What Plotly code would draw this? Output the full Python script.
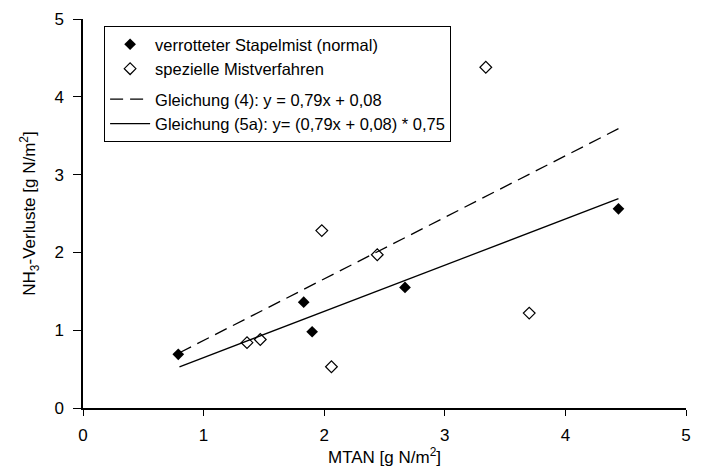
import plotly.graph_objects as go

# Data
x_normal = [0.79, 1.83, 1.90, 2.67, 4.44]
y_normal = [0.69, 1.36, 0.98, 1.55, 2.56]

x_special = [1.36, 1.47, 1.98, 2.06, 2.44, 3.34, 3.70]
y_special = [0.84, 0.88, 2.28, 0.53, 1.97, 4.38, 1.22]

x_fit = [0.80, 4.44]
y_eq4 = [0.71, 3.59]
y_eq5a = [0.53, 2.69]

tick_vals = [0, 1, 2, 3, 4, 5]
tick_text = ["0", "1", "2", "3", "4", "5"]

FONT = "Liberation Sans, Arial, sans-serif"

fig = go.Figure()
fig.add_trace(go.Scatter(
    x=x_normal, y=y_normal, mode="markers",
    name="verrotteter Stapelmist (normal)",
    marker=dict(symbol="diamond", size=9, color="black"),
    legendgroup="pts",
))
fig.add_trace(go.Scatter(
    x=x_special, y=y_special, mode="markers",
    name="spezielle Mistverfahren",
    marker=dict(symbol="diamond-open", size=9, color="black", line=dict(width=1.2)),
    legendgroup="pts",
))
fig.add_trace(go.Scatter(
    x=x_fit, y=y_eq4, mode="lines",
    name="Gleichung (4): y = 0,79x + 0,08",
    line=dict(color="black", width=1.3, dash="13px,7px"),
    legendgroup="lines",
))
fig.add_trace(go.Scatter(
    x=x_fit, y=y_eq5a, mode="lines",
    name="Gleichung (5a): y= (0,79x + 0,08) * 0,75",
    line=dict(color="black", width=1.3),
    legendgroup="lines",
))

fig.update_layout(
    width=698, height=464,
    margin=dict(l=75, r=20, t=11, b=64),
    paper_bgcolor="white", plot_bgcolor="white",
    font=dict(family=FONT, size=17, color="black"),
    showlegend=True,
    legend=dict(
        x=0.035, y=0.982, xanchor="left", yanchor="top",
        bgcolor="white", bordercolor="black", borderwidth=1,
        font=dict(family=FONT, size=16.5, color="black"),
        traceorder="grouped", tracegroupgap=6, itemwidth=40,
    ),
    xaxis=dict(
        range=[0, 5], tickvals=tick_vals, ticktext=tick_text,
        showgrid=False, zeroline=False, showline=True, linecolor="black", linewidth=1.5,
        ticks="outside", ticklen=6, tickcolor="black", tickwidth=1,
        ticklabelstandoff=5, automargin=False,
        title=dict(text="MTAN [g N/m<sup>2</sup>]", standoff=1, font=dict(size=17)),
    ),
    yaxis=dict(
        range=[0, 5], tickvals=tick_vals, ticktext=tick_text,
        showgrid=False, zeroline=False, showline=True, linecolor="black", linewidth=1.5,
        ticks="outside", ticklen=8, tickcolor="black", tickwidth=1,
        ticklabelstandoff=6, automargin=False,
        title=dict(text="NH<sub>3</sub>-Verluste [g N/m<sup>2</sup>]", standoff=14, font=dict(size=17)),
    ),
)

fig.write_html("out.html")
